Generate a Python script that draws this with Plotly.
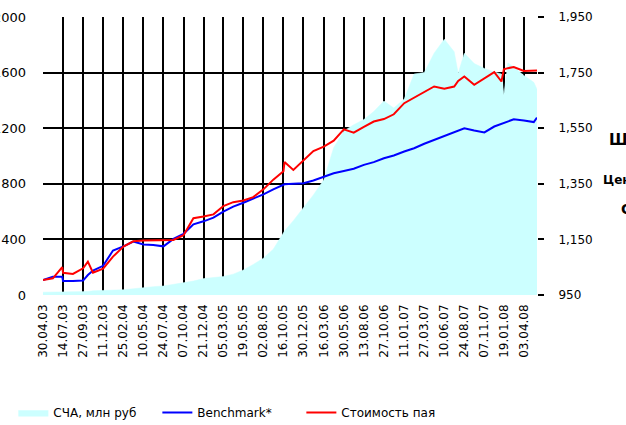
import plotly.graph_objects as go

# ---- data ----
dates = [
    "2003-04-30", "2003-06-06", "2003-07-11", "2003-07-14", "2003-08-20", "2003-09-27",
    "2003-10-15", "2003-11-03", "2003-12-11", "2004-01-17", "2004-02-25", "2004-04-02",
    "2004-05-10", "2004-06-16", "2004-07-24", "2004-08-30", "2004-10-07", "2004-11-13",
    "2004-12-21", "2005-01-27", "2005-03-05", "2005-04-11", "2005-05-19", "2005-06-25",
    "2005-08-02", "2005-09-08", "2005-10-16", "2005-10-20", "2005-11-22", "2005-12-30",
    "2006-02-05", "2006-03-16", "2006-04-22", "2006-05-30", "2006-07-06", "2006-08-13",
    "2006-09-19", "2006-10-27", "2006-12-03", "2007-01-11", "2007-02-17", "2007-03-27",
    "2007-05-03", "2007-06-10", "2007-07-17", "2007-08-01", "2007-08-24", "2007-09-30",
    "2007-11-07", "2007-12-14", "2008-01-10", "2008-01-19", "2008-02-03", "2008-02-25",
    "2008-04-03", "2008-05-10", "2008-05-22",
]

nav_mln_rub = [
    20, 20, 20, 20, 20, 22,
    25, 30, 32, 36, 38, 45,
    55, 60, 65, 75, 90, 100,
    118, 126, 133, 150, 180, 220,
    265, 330, 440, 460, 535, 625,
    720, 830, 1060, 1180, 1225, 1262,
    1320, 1395, 1345, 1410, 1590, 1600,
    1740, 1840, 1750, 1595, 1740, 1665,
    1630, 1605, 1590, 1440, 1670, 1640,
    1580, 1530, 1480,
]

benchmark = [
    1004, 1016, 1016, 1000, 1000, 1002,
    1022, 1038, 1055, 1110, 1125, 1142,
    1132, 1130, 1125, 1152, 1170, 1204,
    1215, 1228, 1250, 1268, 1282, 1296,
    1312, 1330, 1348, 1348, 1350, 1352,
    1362, 1376, 1388, 1396, 1404, 1418,
    1428, 1442, 1452, 1466, 1478, 1494,
    1508, 1520, 1535, 1542, 1550, 1542,
    1535, 1556, 1566, 1570, 1576, 1582,
    1578, 1572, 1588,
]

unit_price = [
    1004, 1010, 1050, 1030, 1026, 1046,
    1070, 1030, 1045, 1088, 1124, 1143,
    1146, 1146, 1146, 1148, 1165, 1226,
    1232, 1240, 1270, 1284, 1290, 1302,
    1330, 1365, 1395, 1428, 1400, 1435,
    1468, 1484, 1505, 1546, 1534, 1555,
    1574, 1583, 1600, 1640, 1660, 1680,
    1700, 1692, 1700, 1720, 1736, 1706,
    1728, 1752, 1718, 1762, 1766, 1770,
    1756, 1757, 1758,
]

tick_dates = [
    "2003-04-30", "2003-07-14", "2003-09-27", "2003-12-11", "2004-02-25",
    "2004-05-10", "2004-07-24", "2004-10-07", "2004-12-21", "2005-03-05",
    "2005-05-19", "2005-08-02", "2005-10-16", "2005-12-30", "2006-03-16",
    "2006-05-30", "2006-08-13", "2006-10-27", "2007-01-11", "2007-03-27",
    "2007-06-10", "2007-08-24", "2007-11-07", "2008-01-19", "2008-04-03",
]
tick_labels = [
    "30.04.03", "14.07.03", "27.09.03", "11.12.03", "25.02.04",
    "10.05.04", "24.07.04", "07.10.04", "21.12.04", "05.03.05",
    "19.05.05", "02.08.05", "16.10.05", "30.12.05", "16.03.06",
    "30.05.06", "13.08.06", "27.10.06", "11.01.07", "27.03.07",
    "10.06.07", "24.08.07", "07.11.07", "19.01.08", "03.04.08",
]

FONT = "DejaVu Sans"

fig = go.Figure()
fig.add_trace(go.Scatter(
    x=dates, y=nav_mln_rub, name="СЧА, млн руб", mode="lines",
    fill="tozeroy", fillcolor="#ccffff", line=dict(color="#ccffff", width=0.5),
    yaxis="y",
))
fig.add_trace(go.Scatter(
    x=dates, y=benchmark, name="Benchmark*", mode="lines",
    line=dict(color="#0000ff", width=2), yaxis="y2",
))
fig.add_trace(go.Scatter(
    x=dates, y=unit_price, name="Стоимость пая", mode="lines",
    line=dict(color="#ff0000", width=2), yaxis="y2",
))

fig.update_layout(
    width=626, height=425,
    margin=dict(l=43, r=89, t=17, b=130, autoexpand=False),
    paper_bgcolor="white", plot_bgcolor="white",
    font=dict(family=FONT, size=12, color="black"),
    showlegend=True,
    legend=dict(
        orientation="h", x=-0.06, xanchor="left", y=-0.423, yanchor="middle",
        font=dict(family=FONT, size=12, color="black"),
        itemwidth=30, entrywidth=99, bgcolor="rgba(0,0,0,0)",
    ),
    xaxis=dict(
        type="date", range=["2003-04-30", "2008-05-22"],
        tickmode="array", tickvals=tick_dates, ticktext=tick_labels,
        tickangle=-90, tickfont=dict(family=FONT, size=12, color="black"),
        showgrid=True, gridcolor="black", gridwidth=2,
        showline=False, zeroline=False, ticks="", ticklabelstandoff=6,
    ),
    yaxis=dict(
        range=[0, 2000], tickmode="array", tickvals=[0, 400, 800, 1200, 1600, 2000],
        showgrid=True, gridcolor="black", gridwidth=2, zeroline=False,
        showline=False, ticks="", ticklabelstandoff=16,
        tickfont=dict(family=FONT, size=13, color="black"),
    ),
    yaxis2=dict(
        range=[950, 1950], tickmode="array",
        tickvals=[950, 1150, 1350, 1550, 1750, 1950], tickformat=",d",
        overlaying="y", side="right", showgrid=False, zeroline=False,
        showline=False, ticks="outside", ticklen=6, tickwidth=2, tickcolor="black",
        ticklabelstandoff=12,
        tickfont=dict(family=FONT, size=12, color="black"),
    ),
)

for txt, xp, yp, sz in [("Шкала", 1.142, 0.559, 15), ("Цена пая", 1.13, 0.415, 12),
                         ("СЧА", 1.166, 0.31, 14)]:
    fig.add_annotation(text="<b>%s</b>" % txt, xref="paper", yref="paper",
                       x=xp, y=yp, xanchor="left", yanchor="middle",
                       showarrow=False, font=dict(family=FONT, size=sz, color="black"))

fig.write_html("out.html", config={"displayModeBar": False},
               post_script="document.body.style.margin='0';")
